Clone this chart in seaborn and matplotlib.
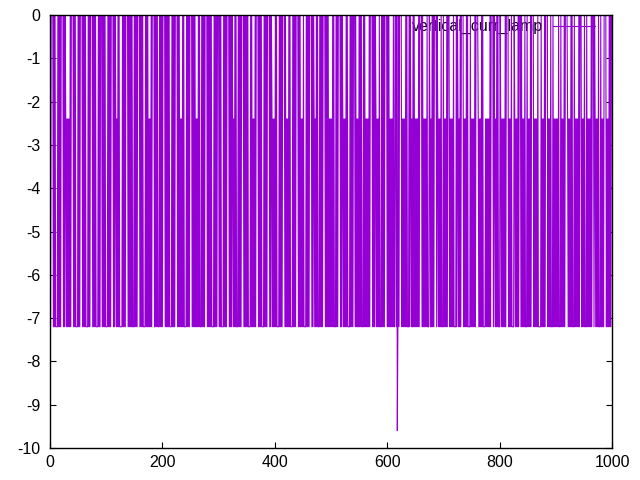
import numpy as np
import pandas as pd
import matplotlib
matplotlib.use('Agg')
import matplotlib.pyplot as plt
import seaborn as sns

# signal levels
levels = {'0': 0.0, 'a': -2.4, '7': -7.2, '9': -9.6}

# one row = 50 samples, written in groups of 5 (spaces only for reading)
rows = [
    "07000 07070 77770 70707 00007 070a7 a7a7a 70700 00707 07777",
    "07070 00070 70707 77707 07000 07070 70777 70707 00070 70707",
    "77707 07070 00070 70a7a 70707 77770 70707 00007 07070 70777",
    "07070 70000 70707 07777 07070 7a7a7 07000 07070 70777 07070",
    "70000 70707 07077 77070 70700 00707 07a7a 70707 77707 07070",
    "00070 70707 a7a70 70777 07070 70000 70707 07077 77070 70700",
    "07070 77770 70707 00007 07070 a7a70 70777 07070 70000 70707",
    "07077 77070 7a7a7 07000 07070 70777 70707 07000 07070 a7a7a",
    "70707 77707 07070 00070 7a7a7 07077 77070 70700 00707 07a7a",
    "70777 70707 07000 07070 a7a70 70777 07070 70000 70707 07a7a",
    "7a707 07770 70700 00707 0a7a7 a7070 77770 70707 00070 7a7a7",
    "07070 77707 07a7a 7a707 00007 07070 a7a7a 70777 07070 70000",
    "70707 a7a7a 70770 07097 07000 07a7a 7a707 07770 70a7a 70707",
    "a7a7a 70700 00707 a7a7a 70777 0a7a7 07070 00070 a7a7a 70777",
    "07a7a 70700 07a7a 7a707 77707 0a7a7 07000 07a7a 70707 77707",
    "a7a7a 70700 00a7a 7a707 07777 a7a7a 7a707 00007 0a7a7 07077",
    "70a7a 7a7a7 07000 07a7a 70777 70a7a 7a707 00070 7a7a7 07770",
    "7a7a7 07000 07a7a 7a707 77770 7a7a7 07000 07a7a 70777 07a7a",
    "7a7a7 07770 7a7a7 07000 0a7a7 a7070 77707 a7a7a 70700 07a7a",
    "70777 07a7a 7a707 00070 a7a7a 70777 07a7a 70000 7a7a7 07070",
]

series_name = "vertical_curr_lamp"
xticks = [0, 200, 400, 600, 800, 1000]
yticks = [0, -1, -2, -3, -4, -5, -6, -7, -8, -9, -10]


def main():
    codes = "".join(r.replace(" ", "") for r in rows)
    df = pd.DataFrame({'x': np.arange(len(codes)),
                       'y': [levels[c] for c in codes]})

    plt.rcParams['font.family'] = ['Liberation Sans', 'DejaVu Sans']
    plt.rcParams['axes.unicode_minus'] = False

    fig = plt.figure(figsize=(6.4, 4.8), dpi=100)
    ax = fig.add_axes([50 / 640, 1 - 448 / 480, 562 / 640, 433 / 480])

    sns.lineplot(data=df, x='x', y='y', estimator=None, color='#9400d3',
                 linewidth=0.8, label=series_name, ax=ax, zorder=3)

    ax.set_xlim(0, 1000)
    ax.set_ylim(-10, 0)
    ax.set_xticks(xticks)
    ax.set_yticks(yticks)
    ax.set_xlabel('')
    ax.set_ylabel('')
    ax.tick_params(direction='in', length=4, width=0.8, top=True, right=True,
                   labelsize=11.5, colors='black')
    ax.tick_params(axis='y', pad=7)
    ax.tick_params(axis='x', pad=5)
    for s in ax.spines.values():
        s.set_linewidth(1.0)
        s.set_color('black')
        s.set_zorder(4)

    leg = ax.legend(loc='upper right', bbox_to_anchor=(1 - 11 / 562, 1.005),
                    frameon=False, markerfirst=False, handlelength=2.6,
                    handletextpad=0.6, borderaxespad=0.0, fontsize=11.5)
    leg.set_zorder(1)

    fig.savefig('out.png', dpi=100)


if __name__ == "__main__":
    main()
